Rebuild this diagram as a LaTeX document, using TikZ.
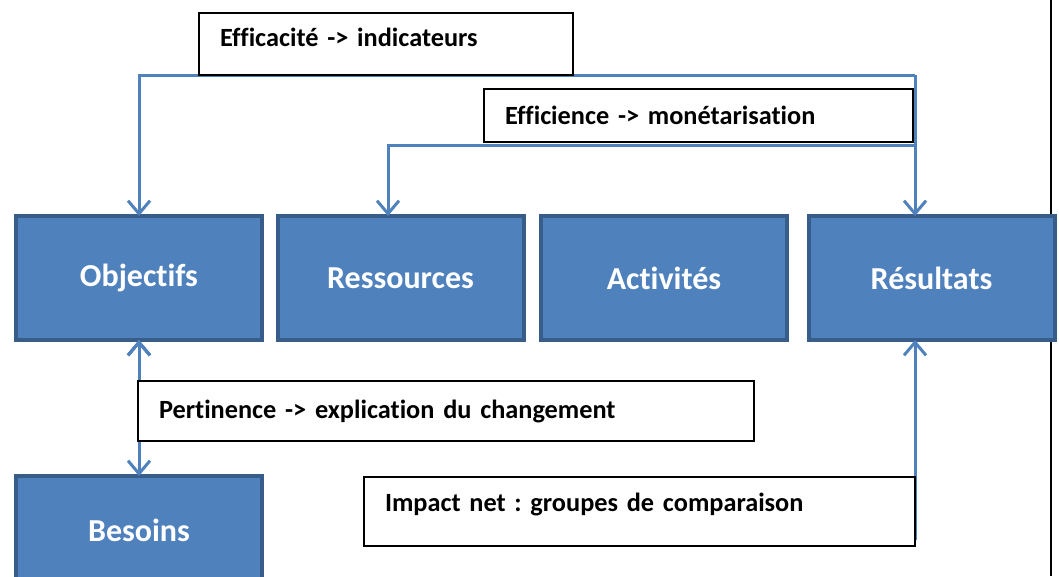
\documentclass[tikz,border=0pt]{standalone}
\usepackage{fontspec}
\setmainfont{Carlito}[Ligatures={NoCommon}]
\usetikzlibrary{arrows.meta,positioning}

\definecolor{stagefill}{HTML}{4F81BD}
\definecolor{stageborder}{HTML}{385D8A}
\definecolor{flowblue}{HTML}{4F81BD}

\tikzset{
  stage/.style={draw=stageborder, fill=stagefill, line width=4pt, text=white,
    font=\fontsize{32}{36}\selectfont\bfseries, minimum width=246pt, minimum height=124pt, inner sep=0pt},
  critere/.style={draw=black, fill=white, line width=1.2pt,
    font=\fontsize{26.3}{30}\selectfont\bfseries\frenchspacing, align=left, inner xsep=21pt, inner ysep=0pt},
  flow/.style={draw=flowblue, line width=3pt},
}

\begin{document}
\begin{tikzpicture}[x=1pt, y=-1pt, >={Straight Barb[length=13pt,width=22pt]}]
  \useasboundingbox[fill=white] (0,0) rectangle (1059,576);
  \draw[line width=2pt] (1051,0) -- (1051,576);

  \node[stage] (obj)  at (139,278)   {Objectifs};
  \node[stage] (ress) at (400.5,278) {Ressources};
  \node[stage] (act)  at (664,278)   {Activités};
  \node[stage] (res)  at (931.5,278) {Résultats};
  \node[stage, minimum height=108pt] (bes) at (139,530) {Besoins};

  \coordinate (effR) at (915,75);
  \coordinate (efiR) at (915,145);
  \coordinate (efiL) at (388,145);
  \coordinate (impR) at (915,540);

  \draw[flow,->,shorten >=-2pt] (effR) -| (obj.north);
  \draw[flow,->,shorten >=-2pt] (effR) -- (effR |- res.north);
  \draw[flow,->,shorten >=-2pt] (efiR) -- (efiL) -- (efiL |- ress.north);
  \path[flow,<->,shorten >=-2pt,shorten <=-2pt] (obj.south) edge (bes.north);
  \draw[flow,->,shorten >=-2pt] (impR) -- (impR |- res.south);

  \node[critere, minimum width=374pt, minimum height=62pt, text width=332pt, text depth=14pt] (eff) at (386,44) {Efficacité -> indicateurs};
  \node[critere, minimum width=429pt, minimum height=53pt, text width=387pt] (efi) at (698.5,115.5) {Efficience -> monétarisation};
  \node[critere, minimum width=616pt, minimum height=60pt, text width=574pt] (pert) at (446,411) {Pertinence -> explication du changement};
  \node[critere, minimum width=551pt, minimum height=69pt, text width=509pt, text depth=18pt] (imp) at (639.5,511.5) {Impact net : groupes de comparaison};
\end{tikzpicture}
\end{document}
